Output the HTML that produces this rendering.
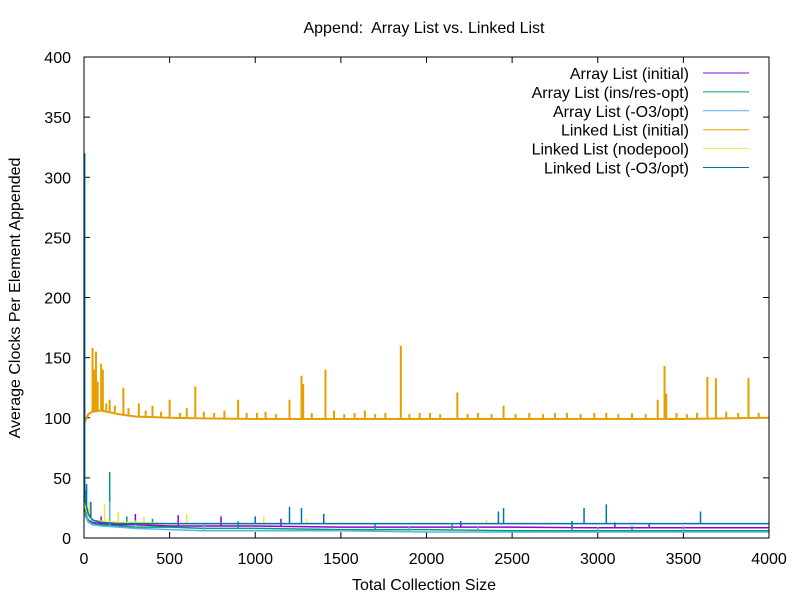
<!DOCTYPE html>
<html><head><meta charset="utf-8"><style>
body{margin:0;background:#fff}
svg{display:block;font-family:"Liberation Sans",Arial,sans-serif}
</style></head><body>
<svg id="chart" width="800" height="600" viewBox="0 0 800 600">
<rect width="800" height="600" fill="#fff"/>
<text x="424" y="33" font-size="16" text-anchor="middle" style="white-space:pre">Append:  Array List vs. Linked List</text>
<text x="424" y="590" font-size="16" text-anchor="middle">Total Collection Size</text>
<text transform="translate(20,298) rotate(-90)" font-size="16" text-anchor="middle">Average Clocks Per Element Appended</text>
<g id="axes"></g>
<g id="series"></g>
<rect x="84" y="57" width="685" height="481" fill="none" stroke="#000" stroke-width="1"/>
<g id="legend"></g>
</svg>
<script>
const xTicks=[0,500,1000,1500,2000,2500,3000,3500,4000];
const yTicks=[0,50,100,150,200,250,300,350,400];
const seriesNames=["Array List (initial)","Array List (ins/res-opt)","Array List (-O3/opt)","Linked List (initial)","Linked List (nodepool)","Linked List (-O3/opt)"];
const seriesColors=["#9400d3","#009e73","#56b4e9","#e69f00","#f0e442","#0072b2"];
const baseX=[0,25,50,100,200,300,500,700,1000,1500,2000,2500,3000,3500,4000];
const orangeBase=[95,103,105,106,103,101,100,99.5,99,99,99,99,99,99,100];
const purpleBase=[20,15,13,12,11,11,10,10,10,9,9,9,8.5,8.5,8.5];
const greenBase=[25,15,12,11,10,9,9,8,8,7,7,6,6,6,6];
const lightBlueBase=[20,13,11,10,9,8,7,6,6,6,5,5,5,5,5];
const yellowBase=[30,18,15,14,13,13,12,12,12,12,12,12,12,12,12];
const blueBase=[35,20,15,13,12,12,12,12,12,12,12,12,12,12,12];
const orangeSpikeX=[50,60,70,80,100,110,130,150,180,230,260,320,360,400,450,500,560,600,650,700,760,820,900,950,1010,1060,1120,1200,1270,1280,1330,1410,1460,1520,1580,1640,1700,1760,1850,1900,1960,2020,2080,2180,2240,2300,2380,2450,2520,2600,2680,2750,2820,2900,2980,3050,3120,3200,3280,3350,3390,3400,3460,3520,3580,3640,3690,3750,3820,3880,3940];
const orangeSpikeY=[158,140,155,130,145,140,112,115,110,125,108,112,106,110,105,115,104,108,126,105,104,106,115,104,104,105,103,115,135,128,104,140,106,103,104,106,103,104,160,103,104,104,103,121,103,104,103,110,103,104,103,104,104,103,104,104,103,104,103,115,143,120,104,103,104,134,133,105,104,133,104];
const purpleSpikeX=[100,300,550,800,1150,2200,2850,3100,3300];
const purpleSpikeY=[18,20,19,18,16,14,14,13,12];
const greenSpikeX=[10,150,250,400,900,1700,2150,2850,3200];
const greenSpikeY=[40,55,18,16,14,12,12,14,10];
const lightBlueSpikeX=[20,150,300,700,1900,2300,3000,3500];
const lightBlueSpikeY=[25,30,15,12,10,9,9,10];
const yellowSpikeX=[30,120,200,350,600,1050,1300,2350];
const yellowSpikeY=[30,28,22,18,20,18,16,15];
const blueSpikeX=[4,15,40,1000,1200,1270,1400,2420,2450,2920,3050,3600];
const blueSpikeY=[320,45,30,18,26,25,20,22,25,25,28,22];
const sx=v=>84+v*685/4000, sy=v=>538-v*481/400;
const NS="http://www.w3.org/2000/svg";
const axes=document.getElementById('axes');
xTicks.forEach(t=>{
 const l=document.createElementNS(NS,'path');
 l.setAttribute('d',`M${sx(t)},538v-6M${sx(t)},57v6`);l.setAttribute('stroke','#000');
 
 
 axes.appendChild(l);
 const tx=document.createElementNS(NS,'text');
 tx.setAttribute('x',sx(t));tx.setAttribute('y',564);tx.setAttribute('font-size','16');tx.setAttribute('text-anchor','middle');
 tx.textContent=t;
 
 
 axes.appendChild(tx);
});
yTicks.forEach(t=>{
 const l=document.createElementNS(NS,'path');
 l.setAttribute('d',`M84,${sy(t)}h6M769,${sy(t)}h-6`);l.setAttribute('stroke','#000');
 
 
 axes.appendChild(l);
 const tx=document.createElementNS(NS,'text');
 tx.setAttribute('x',71);tx.setAttribute('y',sy(t)+6);tx.setAttribute('font-size','16');tx.setAttribute('text-anchor','end');
 tx.textContent=t;
 
 
 axes.appendChild(tx);
});
function baseAt(base,x){for(let i=1;i<baseX.length;i++){if(x<=baseX[i]){const f=(x-baseX[i-1])/(baseX[i]-baseX[i-1]);return base[i-1]+f*(base[i]-base[i-1]);}}return base[base.length-1];}
function buildPath(base,spX,spY){
 const pts=[];baseX.forEach((x,i)=>pts.push([x,base[i]]));
 spX.forEach((x,i)=>{const b=baseAt(base,x);pts.push([x-0.01,b],[x,spY[i]],[x+0.01,b]);});
 pts.sort((a,b)=>a[0]-b[0]);
 return pts.map((p,i)=>(i?'L':'M')+sx(p[0]).toFixed(2)+','+sy(p[1]).toFixed(2)).join('');
}
const defs=[[purpleBase,purpleSpikeX,purpleSpikeY],[greenBase,greenSpikeX,greenSpikeY],[lightBlueBase,lightBlueSpikeX,lightBlueSpikeY],[orangeBase,orangeSpikeX,orangeSpikeY],[yellowBase,yellowSpikeX,yellowSpikeY],[blueBase,blueSpikeX,blueSpikeY]];
const sg=document.getElementById('series'),lg=document.getElementById('legend');
defs.forEach((d,i)=>{
 const p=document.createElementNS(NS,'path');
 p.setAttribute('d',buildPath(d[0],d[1],d[2]));p.setAttribute('fill','none');p.setAttribute('stroke',seriesColors[i]);p.setAttribute('stroke-width',i===3?'2':'1.5');
 
 
 sg.appendChild(p);
 const y=73+i*18.9;
 const t=document.createElementNS(NS,'text');
 t.setAttribute('x',689);t.setAttribute('y',y+6);t.setAttribute('font-size','16');t.setAttribute('text-anchor','end');t.textContent=seriesNames[i];
 
 
 lg.appendChild(t);
 const l=document.createElementNS(NS,'line');
 l.setAttribute('x1',703);l.setAttribute('x2',749);l.setAttribute('y1',y);l.setAttribute('y2',y);l.setAttribute('stroke',seriesColors[i]);
 
 
 lg.appendChild(l);
});
</script>
</body></html>
